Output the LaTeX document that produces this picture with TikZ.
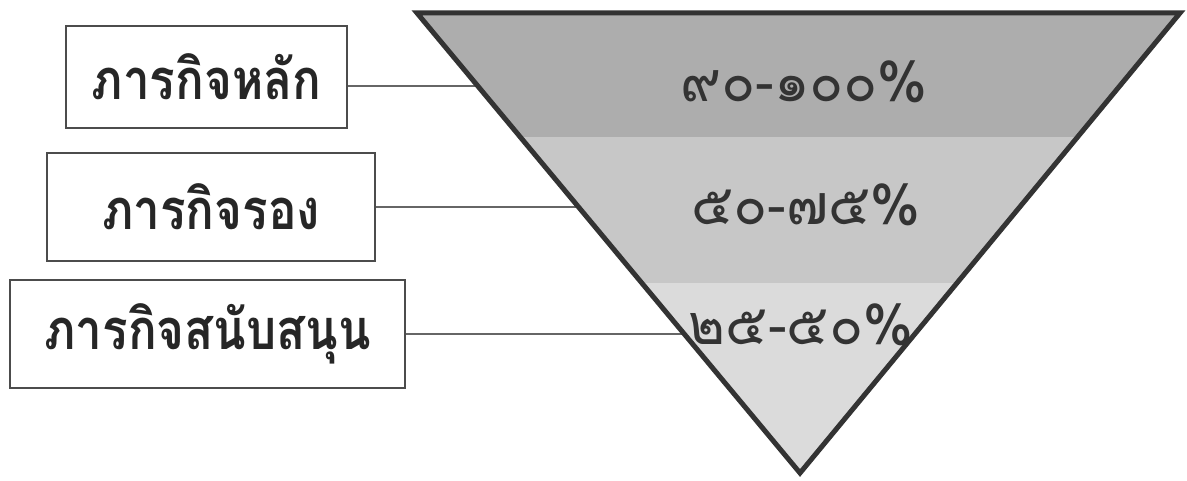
\documentclass[tikz,border=0pt]{standalone}
\usepackage{fontspec}
\usetikzlibrary{calc}
\newfontfamily\thaitask[Script=Thai, FakeStretch=0.85]{Loma}
\newfontfamily\thaishare[Script=Thai]{Loma}
\definecolor{bandtop}{gray}{0.68}
\definecolor{bandmid}{gray}{0.78}
\definecolor{bandlow}{gray}{0.86}
\definecolor{rimgray}{gray}{0.2}

\begin{document}
\begin{tikzpicture}[x=0.5pt, y=-0.5pt,
  taskbox/.style={draw=black!70, line width=1pt, fill=white, inner sep=0pt,
    font=\thaitask\bfseries\fontsize{28}{32}\selectfont, text=black!85},
  link/.style={draw=black!60, line width=0.8pt},
  share/.style={font=\thaishare\fontsize{28}{32}\selectfont, text=black!80}]
  \useasboundingbox (0,0) rectangle (1187,481);

  % Funnel corners
  \coordinate (tl) at (417,13);
  \coordinate (tr) at (1180,13);
  \coordinate (apex) at (800,473);

  % Bands inside the funnel
  \begin{scope}
    \clip (tl) -- (tr) -- (apex) -- cycle;
    \fill[bandtop] (400,0) rectangle (1187,137);
    \fill[bandmid] (400,137) rectangle (1187,283);
    \fill[bandlow] (400,283) rectangle (1187,481);
  \end{scope}

  % Task boxes
  \node[taskbox, minimum width=140.5pt, minimum height=51pt] (main) at (206.5,77) {ภารกิจหลัก};
  \node[taskbox, minimum width=164pt, minimum height=54pt] (second) at (211,207) {ภารกิจรอง};
  \node[taskbox, minimum width=197.5pt, minimum height=54pt] (support) at (207.5,334) {ภารกิจสนับสนุน};

  % Ends on the left rim
  \coordinate (e1) at ($(tl)!0.1587!(apex)$);
  \coordinate (e2) at ($(tl)!0.4217!(apex)$);
  \coordinate (e3) at ($(tl)!0.6978!(apex)$);

  % Connectors
  \draw[link] ([yshift=-4.5pt]main.east) -- (e1);
  \draw[link] (second.east) -- (e2);
  \draw[link] (support.east) -- (e3);

  % Rim
  \draw[rimgray, line width=2.5pt, line join=miter] (tl) -- (tr) -- (apex) -- cycle;

  % Shares
  \node[share] (s1) at (804,82) {๙๐-๑๐๐\%};
  \node[share] (s2) at (806,205) {๕๐-๗๕\%};
  \node[share] (s3) at (801,325) {๒๕-๕๐\%};
\end{tikzpicture}
\end{document}
